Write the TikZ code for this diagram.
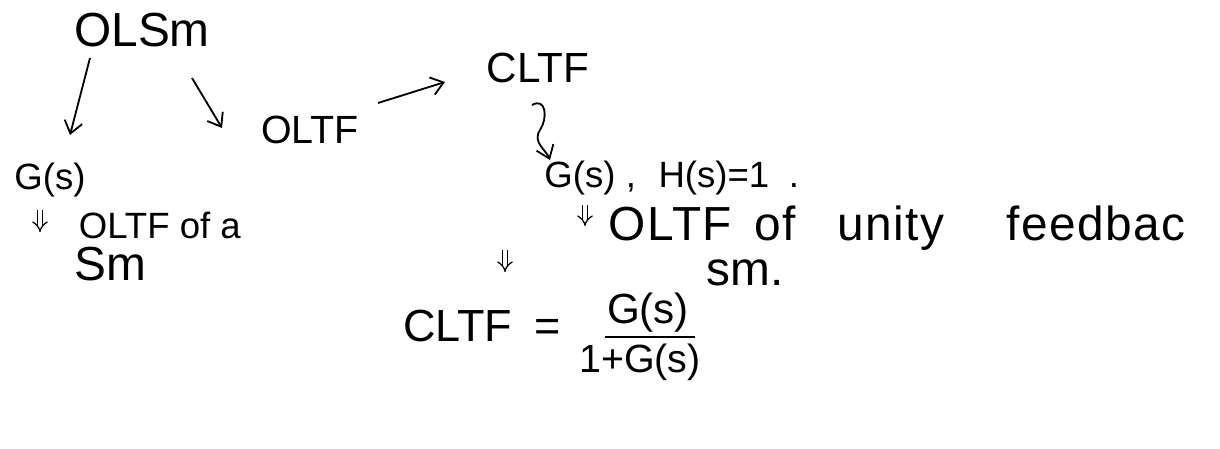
\documentclass[tikz,border=0pt]{standalone}
\usepackage{fontspec}
\setmainfont{Liberation Sans}
\usetikzlibrary{arrows.meta}

\begin{document}
\begin{tikzpicture}[x=0.025cm,y=-0.025cm,font=\fontsize{26}{30}\selectfont,>={Straight Barb[length=3mm,width=4.5mm]},line width=1.3pt,
  hw/.style={inner sep=0pt},
  big/.style={font=\fontsize{34}{38}\selectfont},
  dbl/.style={double,double distance=3pt,line width=0.9pt,-{Implies[length=2.2mm]}}]
\useasboundingbox (0,0) rectangle (1220,448);
% open loop branch
\node[hw,big] (olsm) at (142,30) {OLSm};
\node[hw] (gs1) at (50,180) {G(s)};
\node[hw,anchor=base west] (oltfa) at (78,238) {OLTF of a};
\node[hw,big] (sm1) at (110,264) {Sm};
\node[hw,font=\fontsize{28}{32}\selectfont] (oltf) at (310,130) {OLTF};
\draw[->] ([shift={(-52,28)}]olsm.center) -- ([shift={(20,-45)}]gs1.center);
\draw[->] ([shift={(50,48)}]olsm.center) -- ([shift={(-88,-2)}]oltf.center);
\draw[dbl] ([shift={(-10,30)}]gs1.center) -- ([shift={(-10,52)}]gs1.center);
% closed loop branch
\node[hw,font=\fontsize{30}{34}\selectfont] (cltf) at (538,68) {CLTF};
\node[hw] (gs2) at (580,178) {G(s)};
\node[hw,anchor=base west] (hs) at (625,187) {,\hspace{16pt}H(s)=1\hspace{14pt}.};
\node[hw,anchor=base west,font=\fontsize{34}{38}\selectfont\addfontfeature{LetterSpace=3}] (unity) at (608,240)
  {OLTF\hspace{16pt}of\hspace{30pt}unity\hspace{44pt}feedbac};
\node[hw,big,anchor=base] (sm2) at (745,285) {sm.};
\draw[->] ([shift={(68,-27)}]oltf.center) -- ([shift={(-93,14)}]cltf.center);
\draw[->] ([shift={(-6,37)}]cltf.center) .. controls +(14,-8) and +(8,-12) .. ([shift={(2,62)}]cltf.center)
  .. controls +(-8,12) and +(-4,-10) .. ([shift={(12,92)}]cltf.center);
\draw[dbl] ([shift={(5,27)}]gs2.center) -- ([shift={(5,48)}]gs2.center);
\draw[dbl] ([shift={(-75,72)}]gs2.center) -- ([shift={(-75,94)}]gs2.center);
% closed loop result
\node[hw,anchor=east,font=\fontsize{32}{36}\selectfont] (cltfeq) at (562,326) {CLTF\hspace{16pt}=};
\node[hw,font=\fontsize{30}{34}\selectfont] (num) at (648,313) {G(s)};
\node[hw,font=\fontsize{28}{32}\selectfont] (den) at (640,362) {1+G(s)};
\draw[line width=1.5pt] ([shift={(-43,24)}]num.center) -- ([shift={(47,24)}]num.center);
\end{tikzpicture}
\end{document}
